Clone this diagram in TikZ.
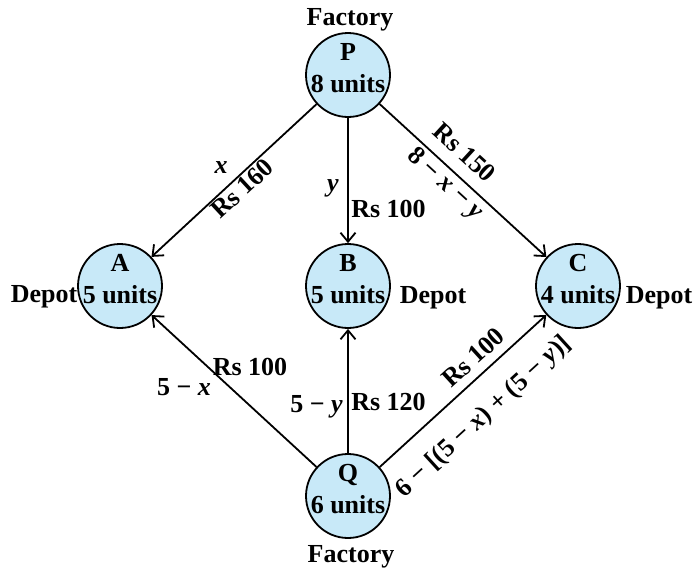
\documentclass[tikz,border=0pt]{standalone}
\usepackage{fontspec}
\setmainfont{Liberation Serif}
\usetikzlibrary{arrows.meta}
\definecolor{nodefill}{RGB}{200,233,248}
\begin{document}
\begin{tikzpicture}[x=1pt,y=-1pt,
  site/.style={circle,draw=black,line width=1.8pt,fill=nodefill,minimum size=84pt,inner sep=0pt},
  txt/.style={font=\fontsize{26}{28}\selectfont\bfseries,inner sep=0pt},
  lbl/.style={txt,text height=18pt,text depth=0pt},
  flow/.style={line width=1.8pt,-{Straight Barb[length=9pt,width=15pt,line width=1.8pt]}},
]
\useasboundingbox (0,0) rectangle (694,571);
% circles
\node[site] (P) at (348,75) {};
\node[site] (A) at (120,286) {};
\node[site] (B) at (348,286) {};
\node[site] (C) at (578,286) {};
\node[site] (Q) at (348,496) {};
% texts inside
\node[txt,anchor=base] (Pl) at (348,60) {P};
\node[txt,anchor=base] (Pu) at (348,92) {8 units};
\node[txt,anchor=base] (Al) at (120,271) {A};
\node[txt,anchor=base] (Au) at (120,303) {5 units};
\node[txt,anchor=base] (Bl) at (348,271) {B};
\node[txt,anchor=base] (Bu) at (348,303) {5 units};
\node[txt,anchor=base] (Cl) at (578,271) {C};
\node[txt,anchor=base] (Cu) at (578,303) {4 units};
\node[txt,anchor=base] (Ql) at (348,481) {Q};
\node[txt,anchor=base] (Qu) at (348,513) {6 units};
% outside labels
\node[txt,anchor=base] (fP) at (350,25) {Factory};
\node[txt,anchor=base] (fQ) at (351,562) {Factory};
\node[txt,anchor=base] (dA) at (44,302) {Depot};
\node[txt,anchor=base] (dB) at (433,303) {Depot};
\node[txt,anchor=base] (dC) at (659,303) {Depot};
% connectors
\draw[flow] (P) -- (A);
\draw[flow] (P) -- (B);
\draw[flow] (P) -- (C);
\draw[flow] (Q) -- (A);
\draw[flow] (Q) -- (B);
\draw[flow] (Q) -- (C);
% connector labels
\node[txt,anchor=base] (lx) at (221,173) {\textit{x}};
\node[lbl,rotate=42.8] (l160) at (242,188) {Rs 160};
\node[txt,anchor=base] (ly) at (333,191) {\textit{y}};
\node[txt,anchor=base] (l100a) at (388.5,217) {Rs 100};
\node[lbl,rotate=-42.5] (l150) at (465,152) {Rs 150};
\node[lbl,rotate=-42.5] (l8xy) at (447,182) {8 − \textit{x} − \textit{y}};
\node[txt,anchor=base] (l100b) at (250,375) {Rs 100};
\node[txt,anchor=base] (l5x) at (184,395) {5 − \textit{x}};
\node[txt,anchor=base] (l5y) at (316.5,412) {5 − \textit{y}};
\node[txt,anchor=base] (l120) at (388.5,410) {Rs 120};
\node[lbl,rotate=42.4] (l100c) at (473,357) {Rs 100};
\node[lbl,rotate=42.4] (l6) at (482,415) {6 − [(5 − \textit{x}) + (5 − \textit{y})]};
\end{tikzpicture}
\end{document}
